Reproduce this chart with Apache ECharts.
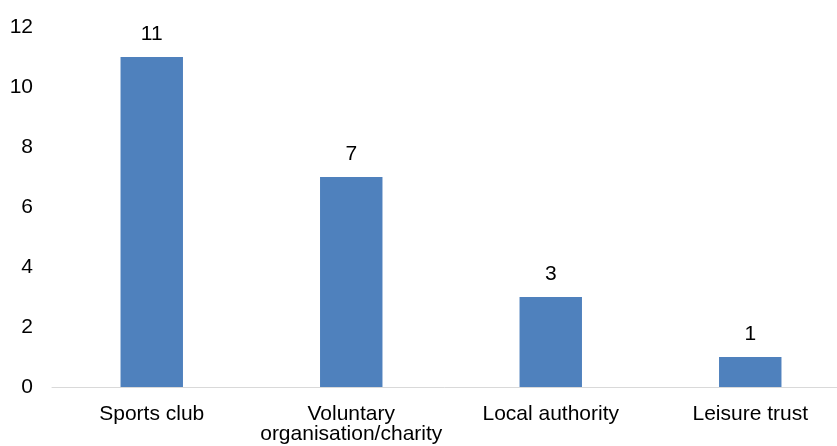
<!DOCTYPE html>
<html>
<head>
<meta charset="utf-8">
<style>
  html, body { margin: 0; padding: 0; background: #fff; }
  #chart { width: 837px; height: 446px; }
</style>
<script src="https://cdn.jsdelivr.net/npm/echarts@6/dist/echarts.min.js"></script>
</head>
<body>
<div id="chart"></div>
<script>
// Organisation types and the number of each
const categories = ['Sports club', 'Voluntary\norganisation/charity', 'Local authority', 'Leisure trust'];
const counts = [11, 7, 3, 1];
const yTicks = [0, 2, 4, 6, 8, 10, 12];

const FONT = '"Liberation Sans", Arial, sans-serif';

const chart = echarts.init(document.getElementById('chart'), null, { renderer: 'canvas' });
chart.setOption({
  animation: false,
  backgroundColor: '#ffffff',
  grid: { left: 52, right: -13, top: 27, bottom: 59, containLabel: false, outerBoundsMode: 'none' },
  xAxis: {
    type: 'category',
    data: categories,
    axisLine: { show: true, lineStyle: { color: '#d9d9d9', width: 1 } },
    axisTick: { show: false },
    axisLabel: {
      color: '#000', fontFamily: FONT, fontSize: 21, lineHeight: 20, margin: 17, interval: 0
    },
    splitLine: { show: false }
  },
  yAxis: {
    type: 'value',
    min: yTicks[0],
    max: yTicks[yTicks.length - 1],
    interval: 2,
    axisLine: { show: false },
    axisTick: { show: false },
    splitLine: { show: false },
    axisLabel: { color: '#000', fontFamily: FONT, fontSize: 21, margin: 19 }
  },
  series: [{
    type: 'bar',
    data: counts,
    barWidth: '31.3%',
    itemStyle: { color: '#4f81bd' },
    label: {
      show: true, position: 'top', distance: 12,
      color: '#000', fontFamily: FONT, fontSize: 21
    }
  }]
});
</script>
</body>
</html>
